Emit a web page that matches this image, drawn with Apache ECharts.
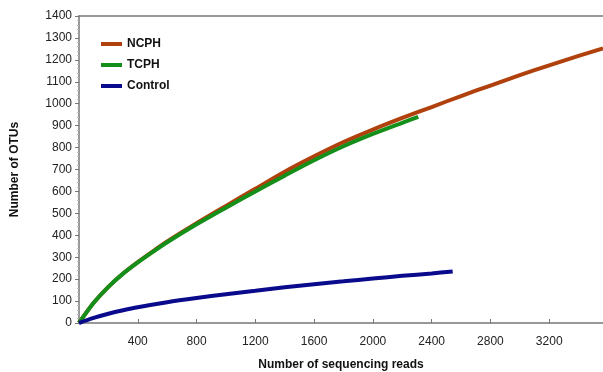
<!DOCTYPE html>
<html>
<head>
<meta charset="utf-8">
<script src="https://cdn.jsdelivr.net/npm/echarts@6/dist/echarts.min.js"></script>
<style>
  html, body { margin: 0; padding: 0; background: #fff; }
  #main { width: 603px; height: 372px; }
</style>
</head>
<body>
<div id="main"></div>
<script>
// rarefaction curves, values
var ncphReads = [0, 100, 200, 300, 400, 500, 600, 800, 1000, 1200, 1400, 1600, 1800, 2000, 2200, 2400, 2600, 2800, 3000, 3200, 3400, 3566];
var ncphOtus  = [0, 92, 165, 226, 278, 326, 372, 455, 534, 612, 690, 760, 825, 882, 935, 985, 1035, 1083, 1130, 1175, 1218, 1252];

var tcphReads = [0, 100, 200, 300, 400, 500, 600, 800, 1000, 1200, 1400, 1600, 1800, 2000, 2200, 2309];
var tcphOtus  = [0, 92, 165, 225, 276, 323, 368, 450, 526, 600, 672, 742, 806, 862, 913, 940];

var ctrlReads = [0, 100, 200, 300, 400, 600, 800, 1000, 1200, 1400, 1600, 1800, 2000, 2200, 2400, 2543];
var ctrlOtus  = [0, 23, 42, 58, 72, 95, 114, 131, 147, 163, 177, 190, 203, 215, 226, 235];

var xMax = 3566;
var yTicks = [0, 100, 200, 300, 400, 500, 600, 700, 800, 900, 1000, 1100, 1200, 1300, 1400];

function pairs(xs, ys) {
  var out = [];
  for (var i = 0; i < xs.length; i++) out.push([xs[i], ys[i]]);
  return out;
}

var myChart = echarts.init(document.getElementById('main'));
var axisGray = '#777777';
var font = 'Liberation Sans, Arial, sans-serif';
var plain = function (v) { return String(v); };

var option = {
  animation: false,
  textStyle: { fontFamily: font },
  grid: { left: 79, top: 16, right: 0, bottom: 49, outerBoundsMode: 'none', containLabel: false },
  legend: {
    orient: 'vertical',
    left: 96,
    top: 33,
    itemWidth: 21,
    itemHeight: 4,
    itemGap: 9,
    icon: 'rect',
    textStyle: { fontFamily: font, fontSize: 12, fontWeight: 'bold', color: '#111' },
    data: ['NCPH', 'TCPH', 'Control']
  },
  xAxis: [{
    type: 'value',
    min: 0,
    max: xMax,
    interval: 400,
    name: 'Number of sequencing reads',
    nameLocation: 'middle',
    nameGap: 36,
    nameTextStyle: { fontFamily: font, fontSize: 12, fontWeight: 'bold', color: '#111' },
    axisLine: { show: true, lineStyle: { color: axisGray, width: 1.5 } },
    axisTick: { show: true, inside: true, length: 4, lineStyle: { color: axisGray } },
    axisLabel: { showMinLabel: false, showMaxLabel: false, color: '#222', fontSize: 12, margin: 13, formatter: plain },
    splitLine: { show: false }
  }, {
    type: 'value',
    position: 'top',
    min: 0,
    max: xMax,
    axisLine: { show: true, lineStyle: { color: axisGray, width: 1.5 } },
    axisTick: { show: false },
    axisLabel: { show: false },
    splitLine: { show: false }
  }],
  yAxis: {
    type: 'value',
    min: yTicks[0],
    max: yTicks[yTicks.length - 1],
    interval: 100,
    name: 'Number of OTUs',
    nameLocation: 'middle',
    nameGap: 58,
    nameTextStyle: { fontFamily: font, fontSize: 12, fontWeight: 'bold', color: '#111' },
    axisLine: { show: true, lineStyle: { color: axisGray, width: 1.5 } },
    axisTick: { show: true, length: 4, lineStyle: { color: axisGray } },
    minorTick: { show: true, splitNumber: 5, length: 2, lineStyle: { color: '#bbbbbb' } },
    axisLabel: { color: '#222', fontSize: 12, margin: 7, formatter: plain },
    splitLine: { show: false }
  },
  series: [
    {
      name: 'NCPH',
      type: 'line',
      smooth: 0.3,
      showSymbol: false,
      color: '#b0400c',
      lineStyle: { width: 4 },
      data: pairs(ncphReads, ncphOtus)
    },
    {
      name: 'TCPH',
      type: 'line',
      smooth: 0.3,
      showSymbol: false,
      color: '#14901a',
      lineStyle: { width: 4 },
      data: pairs(tcphReads, tcphOtus)
    },
    {
      name: 'Control',
      type: 'line',
      smooth: 0.3,
      showSymbol: false,
      color: '#0a0a8c',
      lineStyle: { width: 4 },
      data: pairs(ctrlReads, ctrlOtus)
    }
  ]
};

myChart.setOption(option);
</script>
</body>
</html>
